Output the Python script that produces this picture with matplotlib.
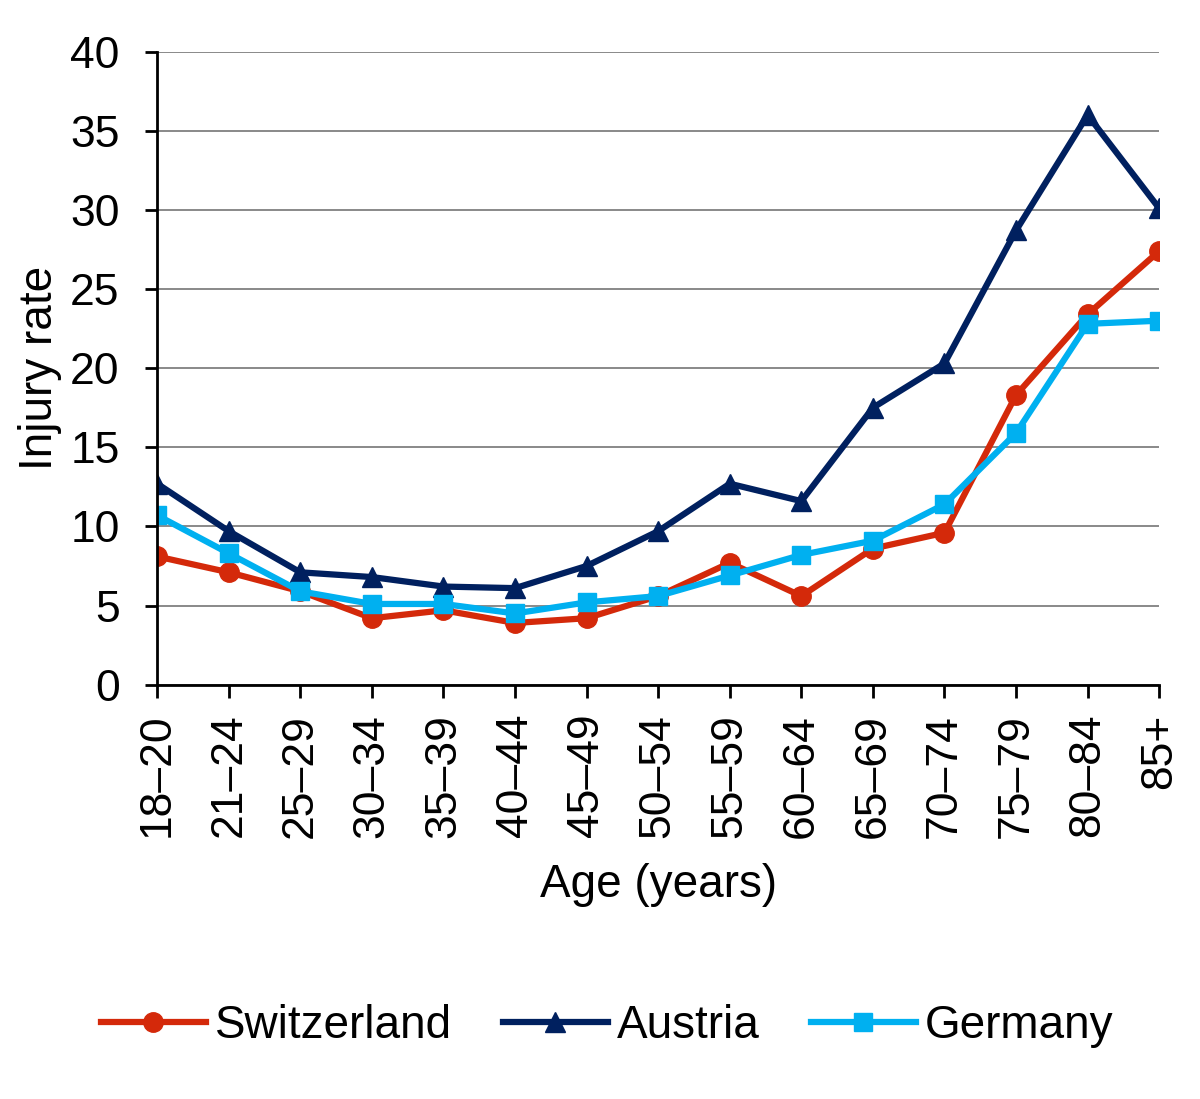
import numpy as np
import matplotlib.pyplot as plt

plt.rcParams['font.family'] = ['Liberation Sans', 'DejaVu Sans']

ages = ['18\u201320', '21\u201324', '25\u201329', '30\u201334', '35\u201339', '40\u201344', '45\u201349',
        '50\u201354', '55\u201359', '60\u201364', '65\u201369', '70\u201374', '75\u201379', '80\u201384', '85+']
switzerland = [8.1, 7.1, 5.9, 4.2, 4.7, 3.9, 4.2, 5.6, 7.7, 5.6, 8.6, 9.6, 18.3, 23.4, 27.4]
austria = [12.7, 9.7, 7.1, 6.8, 6.2, 6.1, 7.5, 9.7, 12.7, 11.6, 17.5, 20.3, 28.7, 36.0, 30.1]
germany = [10.7, 8.3, 5.9, 5.1, 5.1, 4.5, 5.2, 5.6, 6.9, 8.2, 9.1, 11.4, 15.9, 22.8, 23.0]

fig = plt.figure(figsize=(12, 10.99), dpi=100)
ax = fig.add_axes([0.131, 0.377, 0.835, 0.576])
x = np.arange(len(ages))

ax.plot(x, switzerland, color='#d4290a', lw=4.5, marker='o', ms=14, label='Switzerland')
ax.plot(x, austria, color='#00205f', lw=4.5, marker='^', ms=15, label='Austria')
ax.plot(x, germany, color='#00b0f0', lw=4.5, marker='s', ms=13, label='Germany')

ax.set_xlim(0, len(ages) - 1)
ax.set_ylim(0, 40)
ax.set_yticks(range(0, 41, 5))
ax.set_xticks(x)
ax.set_xticklabels(ages, rotation=90)
ax.tick_params(axis='both', labelsize=32, length=9, width=2, direction='out')
ax.tick_params(axis='y', pad=18)
ax.tick_params(axis='x', pad=12)
ax.yaxis.grid(True, color='#808080', lw=1.3)
ax.set_axisbelow(True)
for s in ['top', 'right']:
    ax.spines[s].set_visible(False)
for s in ['left', 'bottom']:
    ax.spines[s].set_linewidth(2)
ax.set_ylabel('Injury rate', fontsize=33, labelpad=6)
ax.set_xlabel('Age (years)', fontsize=33, labelpad=18)

fig.legend(loc='center', bbox_to_anchor=(0.506, 0.066), ncol=3, frameon=False,
           fontsize=33, handlelength=2.3, handletextpad=0.2, columnspacing=1.1)

fig.savefig('out.png', dpi=100)
